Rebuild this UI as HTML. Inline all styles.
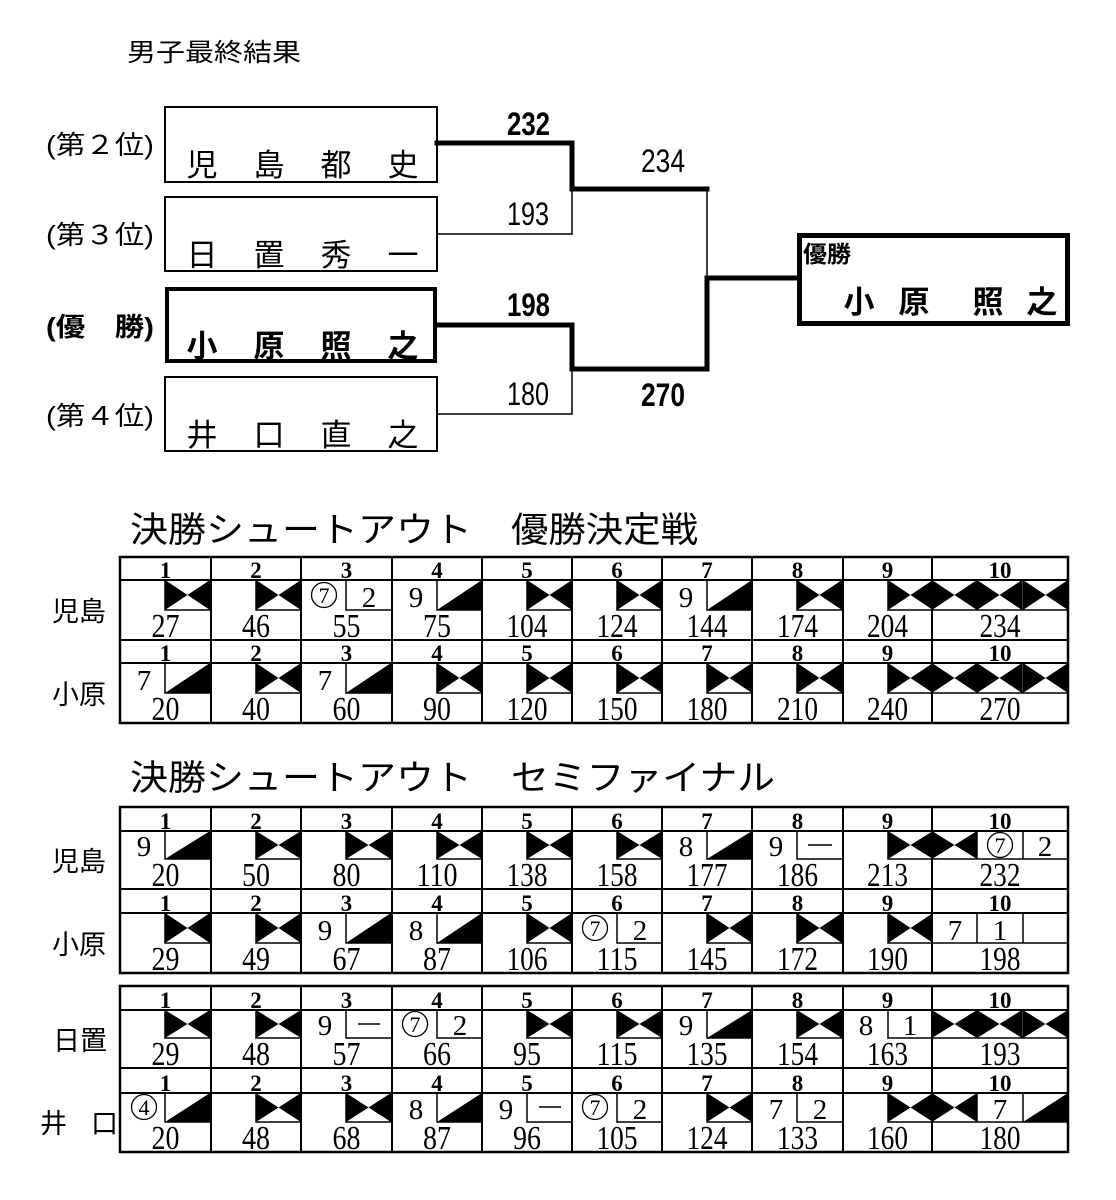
<!DOCTYPE html>
<html><head><meta charset="utf-8">
<style>
html,body{margin:0;padding:0;background:#fff;}
svg{display:block;}
.j{font-family:"Liberation Sans","Noto Sans CJK JP",sans-serif;}
.jb{font-family:"Liberation Sans","Noto Sans CJK JP",sans-serif;font-weight:bold;}
.n{font-family:"Liberation Sans Narrow","Liberation Sans",sans-serif;}
.hd{font-family:"Liberation Serif",serif;font-weight:bold;font-size:23px;}
.sc{font-family:"Liberation Serif",serif;font-size:34px;}
.pf{font-family:"Liberation Serif",serif;font-size:29px;}
.cn{font-family:"Liberation Serif",serif;font-size:22px;}
</style></head><body>
<svg width="1116" height="1200" viewBox="0 0 1116 1200" xmlns="http://www.w3.org/2000/svg">
<defs>
<path id="X" d="M0 0L22.5 15L0 30ZM45 0L22.5 15L45 30Z"/>
<path id="S" d="M0 30L45 0V30Z"/>
</defs>
<rect width="1116" height="1200" fill="#fff"/>

<!-- Title -->
<text class="j" x="127" y="61" font-size="25" textLength="174" lengthAdjust="spacingAndGlyphs">男子最終結果</text>

<!-- Bracket labels -->
<g class="j" font-size="26">
<text x="46" y="154" textLength="108" lengthAdjust="spacingAndGlyphs">(第２位)</text>
<text x="46" y="244" textLength="108" lengthAdjust="spacingAndGlyphs">(第３位)</text>
<text x="46" y="425" textLength="108" lengthAdjust="spacingAndGlyphs">(第４位)</text>
</g>
<text class="jb" x="46" y="336" font-size="26" textLength="108" lengthAdjust="spacingAndGlyphs">(優　勝)</text>

<!-- Bracket boxes -->
<g fill="none" stroke="#000">
<rect x="165" y="107" width="272" height="75" stroke-width="2"/>
<rect x="165" y="197" width="272" height="74" stroke-width="2"/>
<rect x="167" y="289" width="268" height="72" stroke-width="4"/>
<rect x="165" y="377" width="272" height="74" stroke-width="2"/>
</g>
<g class="j" font-size="31" text-anchor="middle">
<text x="202" y="176">児</text><text x="269" y="176">島</text><text x="336" y="176">都</text><text x="403" y="176">史</text>
<text x="202" y="266">日</text><text x="269" y="266">置</text><text x="336" y="266">秀</text><text x="403" y="266">一</text>
<text x="202" y="446">井</text><text x="269" y="446">口</text><text x="336" y="446">直</text><text x="403" y="446">之</text>
</g>
<g class="jb" font-size="31" text-anchor="middle">
<text x="202" y="357">小</text><text x="269" y="357">原</text><text x="336" y="357">照</text><text x="403" y="357">之</text>
</g>

<!-- Bracket lines -->
<g fill="none" stroke="#000" stroke-linejoin="miter" stroke-linecap="square">
<path d="M437 143H572V189H707" stroke-width="5"/>
<path d="M437 325H572V369H707V278H797" stroke-width="5"/>
<path d="M437 234H572V189" stroke-width="1.5"/>
<path d="M437 414H572V369" stroke-width="1.5"/>
<path d="M707 189V278" stroke-width="1.5"/>
</g>
<g class="n" font-size="32">
<text x="507" y="135" font-weight="bold" textLength="43" lengthAdjust="spacingAndGlyphs">232</text>
<text x="507" y="225" textLength="42" lengthAdjust="spacingAndGlyphs">193</text>
<text x="507" y="316" font-weight="bold" textLength="43" lengthAdjust="spacingAndGlyphs">198</text>
<text x="507" y="405" textLength="42" lengthAdjust="spacingAndGlyphs">180</text>
<text x="641" y="172" textLength="44" lengthAdjust="spacingAndGlyphs">234</text>
<text x="641" y="406" font-weight="bold" textLength="44" lengthAdjust="spacingAndGlyphs">270</text>
</g>

<!-- Champion box -->
<rect x="799.5" y="235.5" width="268" height="88" fill="none" stroke="#000" stroke-width="5"/>
<text class="jb" x="803" y="262" font-size="23" textLength="48" lengthAdjust="spacingAndGlyphs">優勝</text>
<g class="jb" font-size="31" text-anchor="middle">
<text x="859" y="313">小</text><text x="914" y="313">原</text><text x="988" y="313">照</text><text x="1042" y="313">之</text>
</g>

<!-- Headings -->
<g class="j" font-size="35">
<text x="130" y="542" textLength="342" lengthAdjust="spacingAndGlyphs">決勝シュートアウト</text>
<text x="511" y="542" textLength="187" lengthAdjust="spacingAndGlyphs">優勝決定戦</text>
<text x="130" y="790" textLength="342" lengthAdjust="spacingAndGlyphs">決勝シュートアウト</text>
<text x="511" y="790" textLength="264" lengthAdjust="spacingAndGlyphs">セミファイナル</text>
</g>

<!-- Side labels -->
<g class="j" font-size="27">
<text x="52" y="621">児島</text>
<text x="52" y="704">小原</text>
<text x="52" y="871">児島</text>
<text x="52" y="954">小原</text>
<text x="53" y="1050">日置</text>
<text x="40" y="1133">井</text><text x="91" y="1133">口</text>
</g>

<!-- Table grids -->
<g fill="none" stroke="#000">
<rect x="120" y="557" width="948" height="166" stroke-width="2.5"/>
<path stroke-width="2" d="M120 580H1068M120 640H1068M120 663H1068M211 557V723M301 557V723M392 557V723M482 557V723M572 557V723M662 557V723M752 557V723M843 557V723M932 557V723"/>
<rect x="120" y="807" width="948" height="166" stroke-width="2.5"/>
<path stroke-width="2" d="M120 831H1068M120 889H1068M120 913H1068M211 807V973M301 807V973M392 807V973M482 807V973M572 807V973M662 807V973M752 807V973M843 807V973M932 807V973"/>
<rect x="120" y="986" width="948" height="166" stroke-width="2.5"/>
<path stroke-width="2" d="M120 1010H1068M120 1068H1068M120 1093H1068M211 986V1152M301 986V1152M392 986V1152M482 986V1152M572 986V1152M662 986V1152M752 986V1152M843 986V1152M932 986V1152"/>
</g>

<!-- Mark boxes -->
<g fill="none" stroke="#000" stroke-width="1.5">
<path d="M165 580V610H211M256 580V610H301M346 580V610H392M437 580V610H482M527 580V610H572M617 580V610H662M707 580V610H752M797 580V610H843M888 580V610H932M932 610H1068M977 580V610M1023 580V610"/>
<path d="M165 663V693H211M256 663V693H301M346 663V693H392M437 663V693H482M527 663V693H572M617 663V693H662M707 663V693H752M797 663V693H843M888 663V693H932M932 693H1068M977 663V693M1023 663V693"/>
<path d="M165 831V859H211M256 831V859H301M346 831V859H392M437 831V859H482M527 831V859H572M617 831V859H662M707 831V859H752M797 831V859H843M888 831V859H932M932 859H1068M977 831V859M1023 831V859"/>
<path d="M165 913V943H211M256 913V943H301M346 913V943H392M437 913V943H482M527 913V943H572M617 913V943H662M707 913V943H752M797 913V943H843M888 913V943H932M932 943H1068M977 913V943M1023 913V943"/>
<path d="M165 1010V1038H211M256 1010V1038H301M346 1010V1038H392M437 1010V1038H482M527 1010V1038H572M617 1010V1038H662M707 1010V1038H752M797 1010V1038H843M888 1010V1038H932M932 1038H1068M977 1010V1038M1023 1010V1038"/>
<path d="M165 1093V1122H211M256 1093V1122H301M346 1093V1122H392M437 1093V1122H482M527 1093V1122H572M617 1093V1122H662M707 1093V1122H752M797 1093V1122H843M888 1093V1122H932M932 1122H1068M977 1093V1122M1023 1093V1122"/>
<!-- dashes -->
<path d="M808 845H832M358 1024H380M539 1107H561"/>
</g>

<!-- Strike / spare marks -->
<g fill="#000" transform="translate(0 580)">
<use href="#X" x="165"/><use href="#X" x="256"/><use href="#X" x="527"/><use href="#X" x="617"/><use href="#X" x="797"/><use href="#X" x="888"/><use href="#X" x="932"/><use href="#X" x="977"/><use href="#X" x="1023"/>
<use href="#S" x="437"/><use href="#S" x="707"/>
</g>
<g fill="#000" transform="translate(0 663)">
<use href="#X" x="256"/><use href="#X" x="437"/><use href="#X" x="527"/><use href="#X" x="617"/><use href="#X" x="707"/><use href="#X" x="797"/><use href="#X" x="888"/><use href="#X" x="932"/><use href="#X" x="977"/><use href="#X" x="1023"/>
<use href="#S" x="165"/><use href="#S" x="346"/>
</g>
<g fill="#000" transform="translate(0 831) scale(1 0.9333)">
<use href="#X" x="256"/><use href="#X" x="346"/><use href="#X" x="437"/><use href="#X" x="527"/><use href="#X" x="617"/><use href="#X" x="888"/><use href="#X" x="932"/>
<use href="#S" x="165"/><use href="#S" x="707"/>
</g>
<g fill="#000" transform="translate(0 913)">
<use href="#X" x="165"/><use href="#X" x="256"/><use href="#X" x="527"/><use href="#X" x="707"/><use href="#X" x="797"/><use href="#X" x="888"/>
<use href="#S" x="346"/><use href="#S" x="437"/>
</g>
<g fill="#000" transform="translate(0 1010) scale(1 0.9333)">
<use href="#X" x="165"/><use href="#X" x="256"/><use href="#X" x="527"/><use href="#X" x="617"/><use href="#X" x="797"/><use href="#X" x="932"/><use href="#X" x="977"/><use href="#X" x="1023"/>
<use href="#S" x="707"/>
</g>
<g fill="#000" transform="translate(0 1093) scale(1 0.9667)">
<use href="#X" x="256"/><use href="#X" x="346"/><use href="#X" x="707"/><use href="#X" x="888"/><use href="#X" x="932"/>
<use href="#S" x="165"/><use href="#S" x="437"/><use href="#S" x="1023"/>
</g>

<!-- Circled numbers -->
<g fill="none" stroke="#000" stroke-width="1.3">
<circle cx="324" cy="595" r="12.5"/>
<circle cx="1000" cy="845" r="12.5"/>
<circle cx="595" cy="928" r="12.5"/>
<circle cx="415" cy="1024" r="12.5"/>
<circle cx="144" cy="1107" r="12.5"/>
<circle cx="595" cy="1107" r="12.5"/>
</g>
<g class="cn" text-anchor="middle">
<text x="324" y="603">7</text>
<text x="1000" y="853">7</text>
<text x="595" y="936">7</text>
<text x="415" y="1032">7</text>
<text x="144" y="1115">4</text>
<text x="595" y="1115">7</text>
</g>

<!-- Pinfall numbers -->
<g class="pf" text-anchor="middle">
<text x="369" y="607">2</text><text x="416" y="607">9</text><text x="686" y="607">9</text>
<text x="144" y="690">7</text><text x="325" y="690">7</text>
<text x="144" y="856">9</text><text x="686" y="856">8</text><text x="776" y="856">9</text><text x="1045" y="856">2</text>
<text x="325" y="940">9</text><text x="416" y="940">8</text><text x="640" y="940">2</text><text x="955" y="940">7</text><text x="1000" y="940">1</text>
<text x="325" y="1035">9</text><text x="460" y="1035">2</text><text x="686" y="1035">9</text><text x="866" y="1035">8</text><text x="910" y="1035">1</text>
<text x="416" y="1119">8</text><text x="506" y="1119">9</text><text x="640" y="1119">2</text><text x="776" y="1119">7</text><text x="820" y="1119">2</text><text x="1000" y="1119">7</text>
</g>

<!-- Frame headers -->
<g class="hd" text-anchor="middle">
<text x="165.5" y="578">1</text><text x="256" y="578">2</text><text x="346.5" y="578">3</text><text x="437" y="578">4</text><text x="527" y="578">5</text><text x="617" y="578">6</text><text x="707" y="578">7</text><text x="797.5" y="578">8</text><text x="887.5" y="578">9</text><text x="1000" y="578">10</text>
<text x="165.5" y="661">1</text><text x="256" y="661">2</text><text x="346.5" y="661">3</text><text x="437" y="661">4</text><text x="527" y="661">5</text><text x="617" y="661">6</text><text x="707" y="661">7</text><text x="797.5" y="661">8</text><text x="887.5" y="661">9</text><text x="1000" y="661">10</text>
<text x="165.5" y="829">1</text><text x="256" y="829">2</text><text x="346.5" y="829">3</text><text x="437" y="829">4</text><text x="527" y="829">5</text><text x="617" y="829">6</text><text x="707" y="829">7</text><text x="797.5" y="829">8</text><text x="887.5" y="829">9</text><text x="1000" y="829">10</text>
<text x="165.5" y="911">1</text><text x="256" y="911">2</text><text x="346.5" y="911">3</text><text x="437" y="911">4</text><text x="527" y="911">5</text><text x="617" y="911">6</text><text x="707" y="911">7</text><text x="797.5" y="911">8</text><text x="887.5" y="911">9</text><text x="1000" y="911">10</text>
<text x="165.5" y="1008">1</text><text x="256" y="1008">2</text><text x="346.5" y="1008">3</text><text x="437" y="1008">4</text><text x="527" y="1008">5</text><text x="617" y="1008">6</text><text x="707" y="1008">7</text><text x="797.5" y="1008">8</text><text x="887.5" y="1008">9</text><text x="1000" y="1008">10</text>
<text x="165.5" y="1091">1</text><text x="256" y="1091">2</text><text x="346.5" y="1091">3</text><text x="437" y="1091">4</text><text x="527" y="1091">5</text><text x="617" y="1091">6</text><text x="707" y="1091">7</text><text x="797.5" y="1091">8</text><text x="887.5" y="1091">9</text><text x="1000" y="1091">10</text>
</g>

<!-- Scores -->
<g class="sc" text-anchor="middle">
<text x="165.5" y="637" textLength="28" lengthAdjust="spacingAndGlyphs">27</text>
<text x="256" y="637" textLength="28" lengthAdjust="spacingAndGlyphs">46</text>
<text x="346.5" y="637" textLength="28" lengthAdjust="spacingAndGlyphs">55</text>
<text x="437" y="637" textLength="28" lengthAdjust="spacingAndGlyphs">75</text>
<text x="527" y="637" textLength="41" lengthAdjust="spacingAndGlyphs">104</text>
<text x="617" y="637" textLength="41" lengthAdjust="spacingAndGlyphs">124</text>
<text x="707" y="637" textLength="41" lengthAdjust="spacingAndGlyphs">144</text>
<text x="797.5" y="637" textLength="41" lengthAdjust="spacingAndGlyphs">174</text>
<text x="887.5" y="637" textLength="41" lengthAdjust="spacingAndGlyphs">204</text>
<text x="1000" y="637" textLength="41" lengthAdjust="spacingAndGlyphs">234</text>

<text x="165.5" y="720" textLength="28" lengthAdjust="spacingAndGlyphs">20</text>
<text x="256" y="720" textLength="28" lengthAdjust="spacingAndGlyphs">40</text>
<text x="346.5" y="720" textLength="28" lengthAdjust="spacingAndGlyphs">60</text>
<text x="437" y="720" textLength="28" lengthAdjust="spacingAndGlyphs">90</text>
<text x="527" y="720" textLength="41" lengthAdjust="spacingAndGlyphs">120</text>
<text x="617" y="720" textLength="41" lengthAdjust="spacingAndGlyphs">150</text>
<text x="707" y="720" textLength="41" lengthAdjust="spacingAndGlyphs">180</text>
<text x="797.5" y="720" textLength="41" lengthAdjust="spacingAndGlyphs">210</text>
<text x="887.5" y="720" textLength="41" lengthAdjust="spacingAndGlyphs">240</text>
<text x="1000" y="720" textLength="41" lengthAdjust="spacingAndGlyphs">270</text>

<text x="165.5" y="886" textLength="28" lengthAdjust="spacingAndGlyphs">20</text>
<text x="256" y="886" textLength="28" lengthAdjust="spacingAndGlyphs">50</text>
<text x="346.5" y="886" textLength="28" lengthAdjust="spacingAndGlyphs">80</text>
<text x="437" y="886" textLength="41" lengthAdjust="spacingAndGlyphs">110</text>
<text x="527" y="886" textLength="41" lengthAdjust="spacingAndGlyphs">138</text>
<text x="617" y="886" textLength="41" lengthAdjust="spacingAndGlyphs">158</text>
<text x="707" y="886" textLength="41" lengthAdjust="spacingAndGlyphs">177</text>
<text x="797.5" y="886" textLength="41" lengthAdjust="spacingAndGlyphs">186</text>
<text x="887.5" y="886" textLength="41" lengthAdjust="spacingAndGlyphs">213</text>
<text x="1000" y="886" textLength="41" lengthAdjust="spacingAndGlyphs">232</text>

<text x="165.5" y="970" textLength="28" lengthAdjust="spacingAndGlyphs">29</text>
<text x="256" y="970" textLength="28" lengthAdjust="spacingAndGlyphs">49</text>
<text x="346.5" y="970" textLength="28" lengthAdjust="spacingAndGlyphs">67</text>
<text x="437" y="970" textLength="28" lengthAdjust="spacingAndGlyphs">87</text>
<text x="527" y="970" textLength="41" lengthAdjust="spacingAndGlyphs">106</text>
<text x="617" y="970" textLength="41" lengthAdjust="spacingAndGlyphs">115</text>
<text x="707" y="970" textLength="41" lengthAdjust="spacingAndGlyphs">145</text>
<text x="797.5" y="970" textLength="41" lengthAdjust="spacingAndGlyphs">172</text>
<text x="887.5" y="970" textLength="41" lengthAdjust="spacingAndGlyphs">190</text>
<text x="1000" y="970" textLength="41" lengthAdjust="spacingAndGlyphs">198</text>

<text x="165.5" y="1065" textLength="28" lengthAdjust="spacingAndGlyphs">29</text>
<text x="256" y="1065" textLength="28" lengthAdjust="spacingAndGlyphs">48</text>
<text x="346.5" y="1065" textLength="28" lengthAdjust="spacingAndGlyphs">57</text>
<text x="437" y="1065" textLength="28" lengthAdjust="spacingAndGlyphs">66</text>
<text x="527" y="1065" textLength="28" lengthAdjust="spacingAndGlyphs">95</text>
<text x="617" y="1065" textLength="41" lengthAdjust="spacingAndGlyphs">115</text>
<text x="707" y="1065" textLength="41" lengthAdjust="spacingAndGlyphs">135</text>
<text x="797.5" y="1065" textLength="41" lengthAdjust="spacingAndGlyphs">154</text>
<text x="887.5" y="1065" textLength="41" lengthAdjust="spacingAndGlyphs">163</text>
<text x="1000" y="1065" textLength="41" lengthAdjust="spacingAndGlyphs">193</text>

<text x="165.5" y="1149" textLength="28" lengthAdjust="spacingAndGlyphs">20</text>
<text x="256" y="1149" textLength="28" lengthAdjust="spacingAndGlyphs">48</text>
<text x="346.5" y="1149" textLength="28" lengthAdjust="spacingAndGlyphs">68</text>
<text x="437" y="1149" textLength="28" lengthAdjust="spacingAndGlyphs">87</text>
<text x="527" y="1149" textLength="28" lengthAdjust="spacingAndGlyphs">96</text>
<text x="617" y="1149" textLength="41" lengthAdjust="spacingAndGlyphs">105</text>
<text x="707" y="1149" textLength="41" lengthAdjust="spacingAndGlyphs">124</text>
<text x="797.5" y="1149" textLength="41" lengthAdjust="spacingAndGlyphs">133</text>
<text x="887.5" y="1149" textLength="41" lengthAdjust="spacingAndGlyphs">160</text>
<text x="1000" y="1149" textLength="41" lengthAdjust="spacingAndGlyphs">180</text>
</g>
</svg>
</body></html>
